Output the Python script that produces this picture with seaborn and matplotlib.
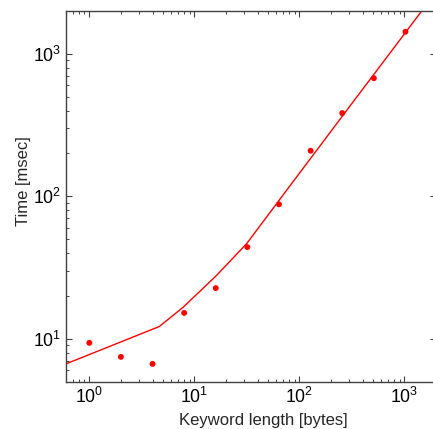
import matplotlib
matplotlib.use("Agg")
import matplotlib.pyplot as plt
import matplotlib.ticker as mticker
import seaborn as sns
import pandas as pd

# Measured points
keyword_len = [1, 2, 4, 8, 16, 32, 64, 128, 256, 512, 1024]
time_ms = [9.37, 7.47, 6.67, 15.2, 22.7, 44.0, 87.9, 209, 384, 675, 1430]

# Fitted curve
fit_x = [0.6, 4.64, 7.86, 16.3, 31.6, 75.9, 339, 1470]
fit_y = [6.67, 12.2, 16.7, 27.9, 46.7, 110.7, 480, 2010]

x_label = "Keyword length [bytes]"
y_label = "Time [msec]"

sns.set_style("ticks")
plt.rcParams["font.family"] = ["Liberation Sans", "DejaVu Sans"]
plt.rcParams["mathtext.fontset"] = "custom"
plt.rcParams["mathtext.rm"] = "Liberation Sans"
plt.rcParams["mathtext.it"] = "Liberation Sans:italic"

fig = plt.figure(figsize=(4.33, 4.29), dpi=100)
ax = fig.add_axes([66 / 433, (429 - 381.7) / 429, (436 - 66) / 433, (381.7 - 11) / 429])

pts = pd.DataFrame({"x": keyword_len, "y": time_ms})
fit = pd.DataFrame({"x": fit_x, "y": fit_y})

sns.lineplot(data=fit, x="x", y="y", ax=ax, color="#ff0000", lw=1.0, sort=False)
sns.scatterplot(data=pts, x="x", y="y", ax=ax, color="#ff0000", s=18, edgecolor="none", zorder=3)

ax.set_xscale("log")
ax.set_yscale("log")
ax.set_xlim(0.6, 2000)
ax.set_ylim(5, 2000)

ax.xaxis.set_major_locator(mticker.LogLocator(base=10, numticks=10))
ax.yaxis.set_major_locator(mticker.LogLocator(base=10, numticks=10))
ax.xaxis.set_minor_locator(mticker.LogLocator(base=10, subs=range(2, 10), numticks=20))
ax.yaxis.set_minor_locator(mticker.LogLocator(base=10, subs=range(2, 10), numticks=20))
ax.xaxis.set_minor_formatter(mticker.NullFormatter())
ax.yaxis.set_minor_formatter(mticker.NullFormatter())

for s in ax.spines.values():
    s.set_visible(True)
    s.set_color("#404040")
    s.set_linewidth(1.0)

ax.tick_params(which="both", direction="in", top=True, right=True, color="#404040",
               labelsize=12.75, labelcolor="black")
ax.tick_params(which="major", length=4.0, width=0.8, pad=3.5)
ax.tick_params(which="minor", length=2.2, width=0.7)

ax.set_xlabel(x_label, fontsize=12)
ax.set_ylabel(y_label, fontsize=12)
ax.xaxis.set_label_coords(0.532, -0.085)
ax.yaxis.set_label_coords(-0.095, 0.541)

fig.savefig("out.png", dpi=100, facecolor="white")
